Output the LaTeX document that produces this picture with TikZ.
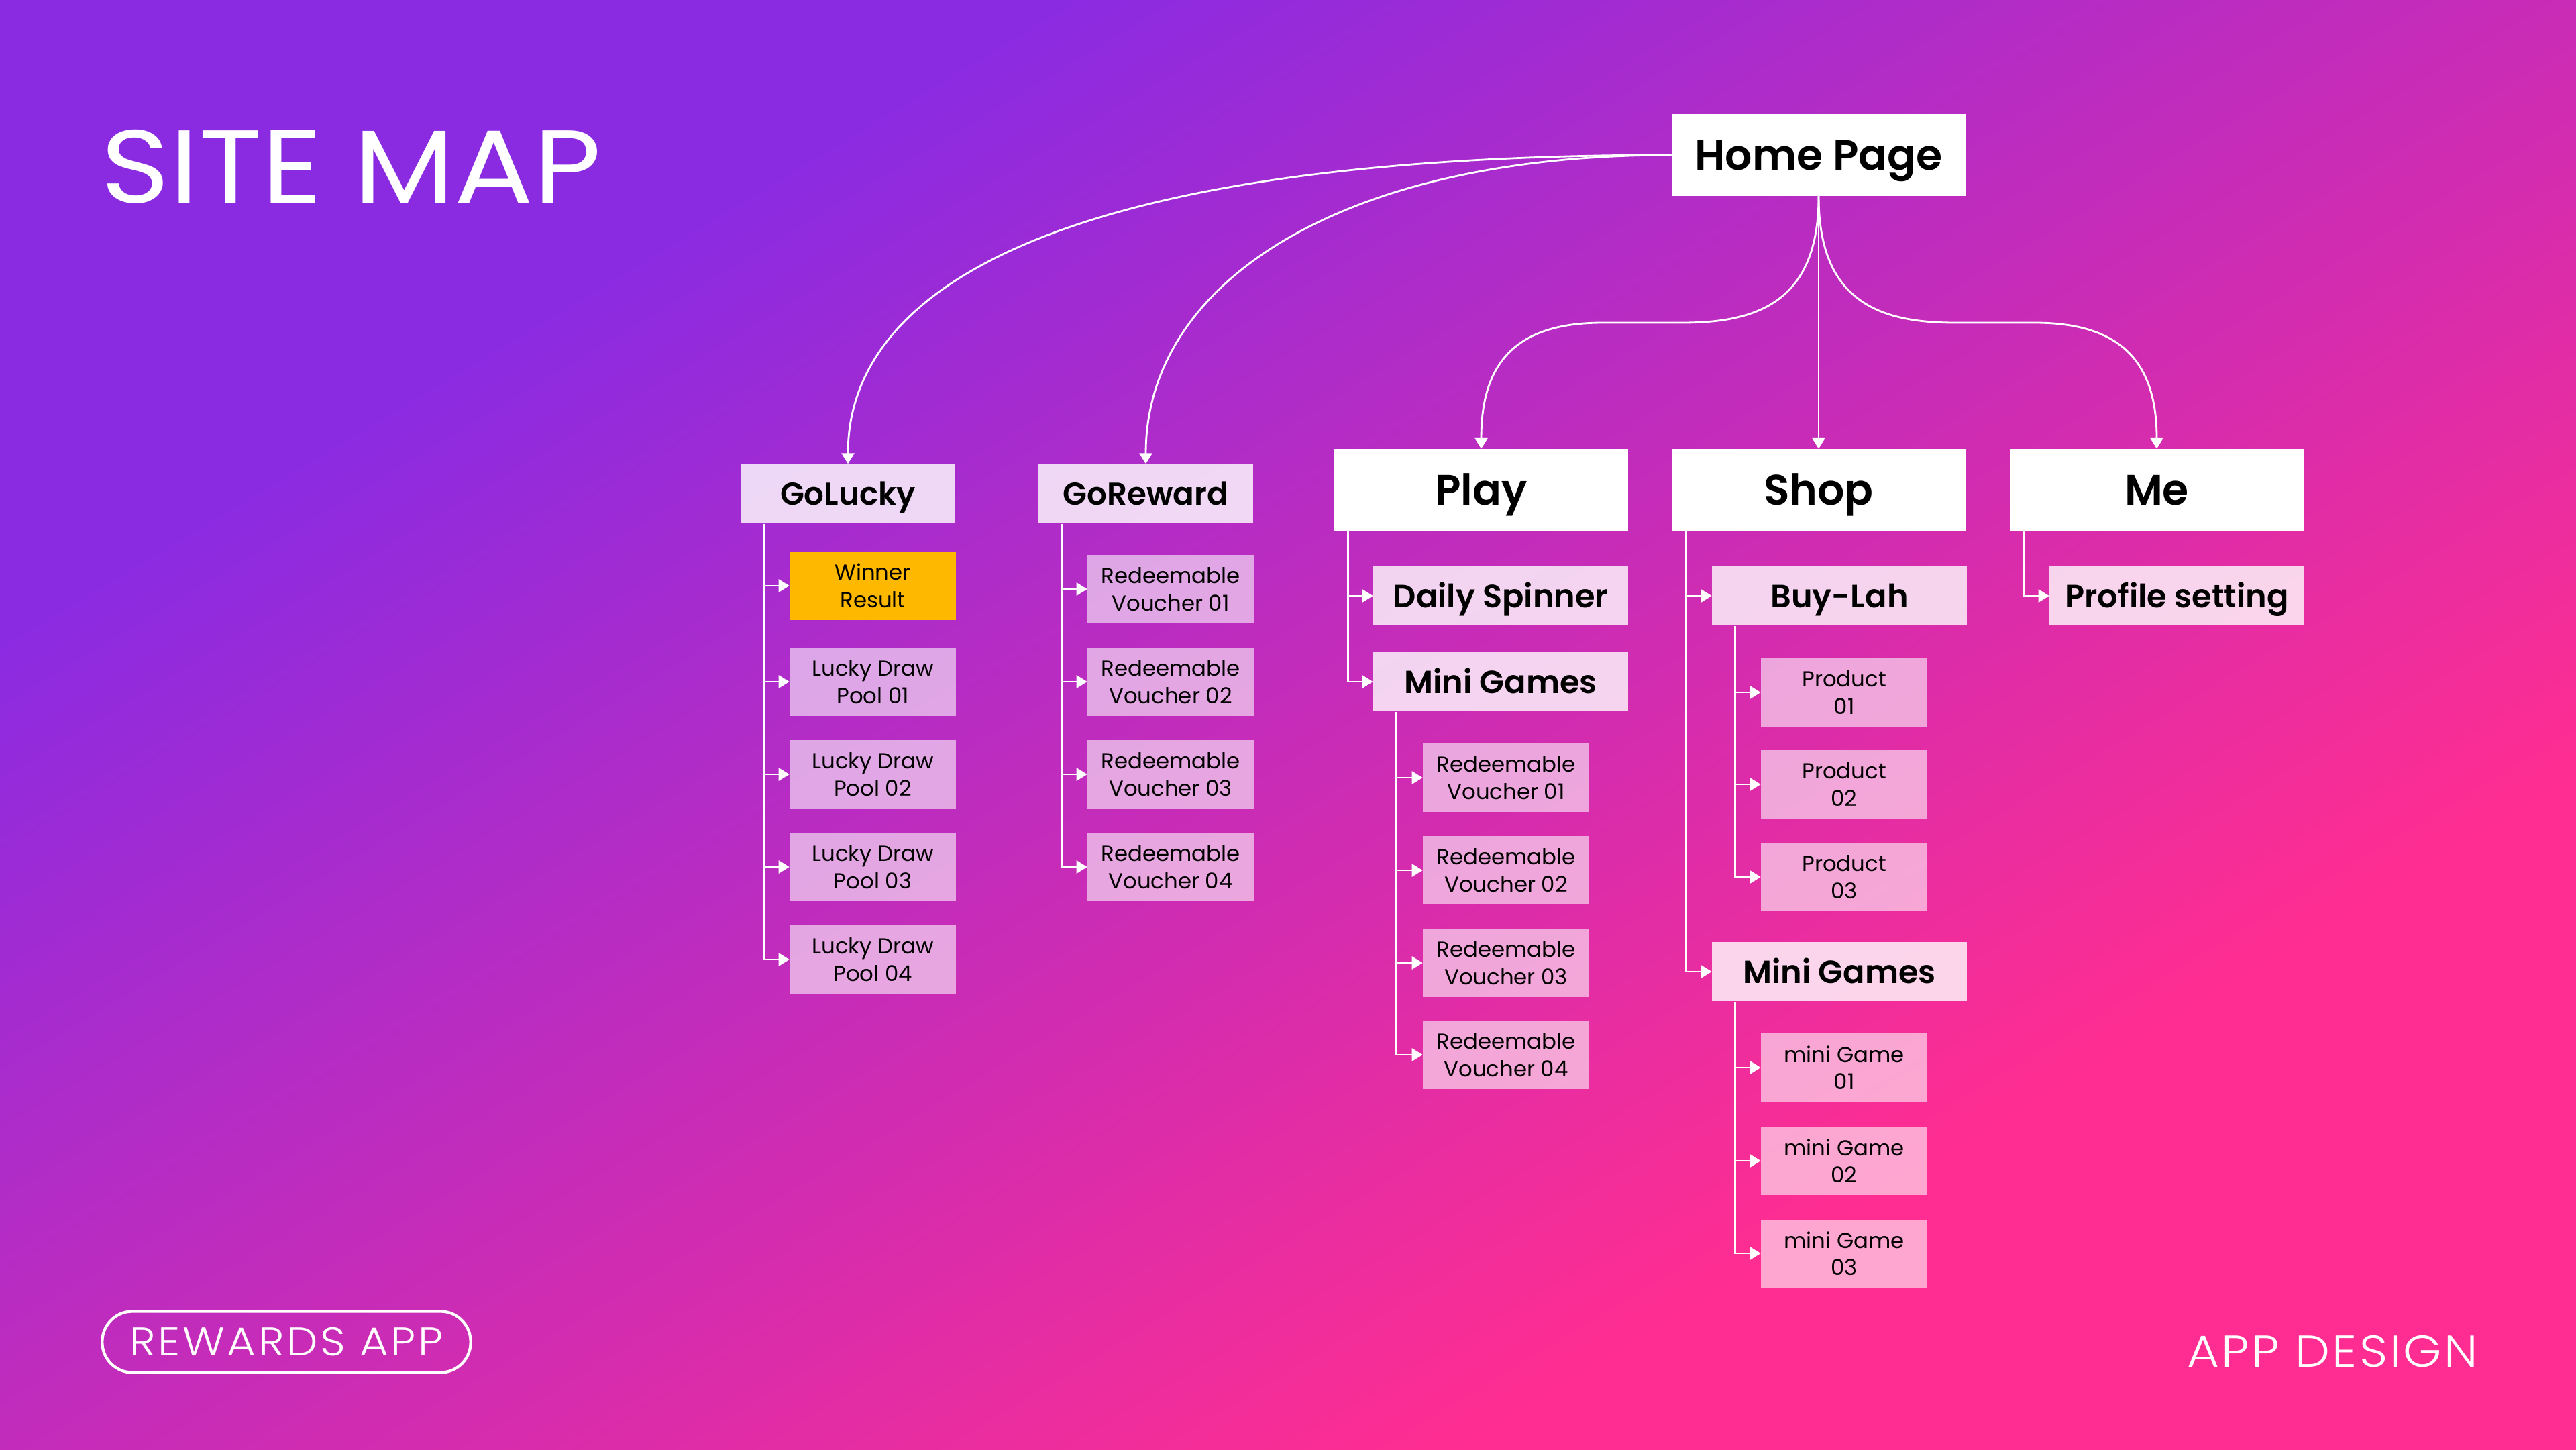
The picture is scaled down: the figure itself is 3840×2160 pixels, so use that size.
\documentclass[tikz,border=0pt]{standalone}
\usepackage{fontspec}
\setmainfont{Poppins}[BoldFont={Poppins SemiBold}]
\newfontfamily\lightfont{Poppins Light}
\usetikzlibrary{positioning, arrows.meta}

\definecolor{bgpurple}{HTML}{8A2BE2}
\definecolor{bgpink}{HTML}{FF2D91}
\definecolor{winneryellow}{HTML}{FFB800}

\pgfdeclareverticalshading{sitebg}{100bp}{color(0bp)=(bgpink); color(31bp)=(bgpink); color(70bp)=(bgpurple); color(100bp)=(bgpurple)}

\tikzset{
  mainbox/.style={fill=white, minimum width=4.37cm, minimum height=1.21cm, inner sep=0pt,
    text height=0.44cm, text depth=0pt, font=\fontsize{18}{20}\selectfont\bfseries},
  groupbox/.style={fill=white, fill opacity=0.82, text opacity=1, minimum width=3.19cm,
    minimum height=0.88cm, inner sep=0pt, text height=0.325cm, text depth=0pt,
    font=\fontsize{13.3}{15}\selectfont\bfseries},
  secbox/.style={fill=white, fill opacity=0.8, text opacity=1, minimum width=3.79cm,
    minimum height=0.88cm, inner sep=0pt, text height=0.34cm, text depth=0pt,
    font=\fontsize{13.6}{15}\selectfont\bfseries},
  leafbox/.style={fill=white, fill opacity=0.58, text opacity=1, minimum width=2.47cm,
    minimum height=1.01cm, inner sep=0pt, align=center, font=\fontsize{9.2}{11.5}\selectfont},
  winbox/.style={leafbox, fill=winneryellow, fill opacity=1},
  link/.style={draw=white, line width=0.8pt, -{Triangle[length=0.16cm, width=0.19cm]}}
}

\begin{document}
\begin{tikzpicture}[x=0.01cm, y=-0.01cm]
\shade[shading=sitebg, shading angle=31] (0,0) rectangle (3840,2160);
\useasboundingbox (0,0) rectangle (3840,2160);

% titles
\node[anchor=base west, inner sep=0pt, text=white,
  font=\fontsize{44}{44}\selectfont\addfontfeature{FakeStretch=1.13}] (title) at (150,302) {SITE MAP};
\node[draw=white, line width=1.2pt, rounded corners=0.45cm, minimum width=5.49cm, minimum height=0.91cm,
  text=white, font=\lightfont\fontsize{17}{17}\selectfont\addfontfeature{FakeStretch=1.1, LetterSpace=6}] (appname) at (427,2000) {REWARDS APP};
\node[anchor=base west, inner sep=0pt, text=white,
  font=\lightfont\fontsize{19}{19}\selectfont\addfontfeature{FakeStretch=1.1, LetterSpace=5}] (design) at (3260,2037) {APP DESIGN};

% top levels
\node[mainbox] (home) at (2711,231) {Home Page};
\node[groupbox] (golucky) at (1264,736) {GoLucky};
\node[groupbox] (goreward) at (1708,736) {GoReward};
\node[mainbox] (play) at (2208,730) {Play};
\node[mainbox] (shop) at (2711,730) {Shop};
\node[mainbox] (me) at (3215,730) {Me};

\node[secbox] (spinner) at (2237,888) {Daily Spinner};
\node[secbox] (playgames) at (2237,1016) {Mini Games};
\node[secbox] (buylah) at (2742,888) {Buy-Lah};
\node[secbox] (shopgames) at (2742,1448) {Mini Games};
\node[secbox] (profile) at (3245,888) {Profile setting};

% leaves
\node[winbox] (winner) at (1301,873) {Winner\\Result};
\foreach \n/\y in {1/1016,2/1154,3/1292,4/1430}
  \node[leafbox] (pool\n) at (1301,\y) {Lucky Draw\\Pool 0\n};
\foreach \n/\y in {1/878,2/1016,3/1154,4/1292}
  \node[leafbox] (gvoucher\n) at (1745,\y) {Redeemable\\Voucher 0\n};
\foreach \n/\y in {1/1159,2/1297,3/1435,4/1572}
  \node[leafbox] (pvoucher\n) at (2245,\y) {Redeemable\\Voucher 0\n};
\foreach \n/\y in {1/1032,2/1169,3/1307}
  \node[leafbox] (product\n) at (2749,\y) {Product\\0\n};
\foreach \n/\y in {1/1591,2/1730,3/1868}
  \node[leafbox] (minigame\n) at (2749,\y) {mini Game\\0\n};

% links from home
\draw[link] (home.west) .. controls (1600,231) and (1264,420) .. (golucky.north);
\draw[link] (home.west) .. controls (2000,231) and (1708,420) .. (goreward.north);
\draw[link] (home.south) .. controls (2711,450) and (2620,481) .. (2507,481) -- (2389,481)
  .. controls (2260,481) and (2208,540) .. (play.north);
\draw[link] (home.south) -- (shop.north);
\draw[link] (home.south) .. controls (2711,450) and (2802,481) .. (2915,481) -- (3033,481)
  .. controls (3162,481) and (3215,540) .. (me.north);

% elbow links
\foreach \c in {winner,pool1,pool2,pool3,pool4}
  \draw[link] ([xshift=0.35cm]golucky.south west) |- (\c.west);
\foreach \c in {gvoucher1,gvoucher2,gvoucher3,gvoucher4}
  \draw[link] ([xshift=0.35cm]goreward.south west) |- (\c.west);
\foreach \c in {spinner,playgames}
  \draw[link] ([xshift=0.21cm]play.south west) |- (\c.west);
\foreach \c in {pvoucher1,pvoucher2,pvoucher3,pvoucher4}
  \draw[link] ([xshift=0.35cm]playgames.south west) |- (\c.west);
\foreach \c in {buylah,shopgames}
  \draw[link] ([xshift=0.22cm]shop.south west) |- (\c.west);
\foreach \c in {product1,product2,product3}
  \draw[link] ([xshift=0.35cm]buylah.south west) |- (\c.west);
\foreach \c in {minigame1,minigame2,minigame3}
  \draw[link] ([xshift=0.35cm]shopgames.south west) |- (\c.west);
\draw[link] ([xshift=0.21cm]me.south west) |- (profile.west);
\end{tikzpicture}
\end{document}
